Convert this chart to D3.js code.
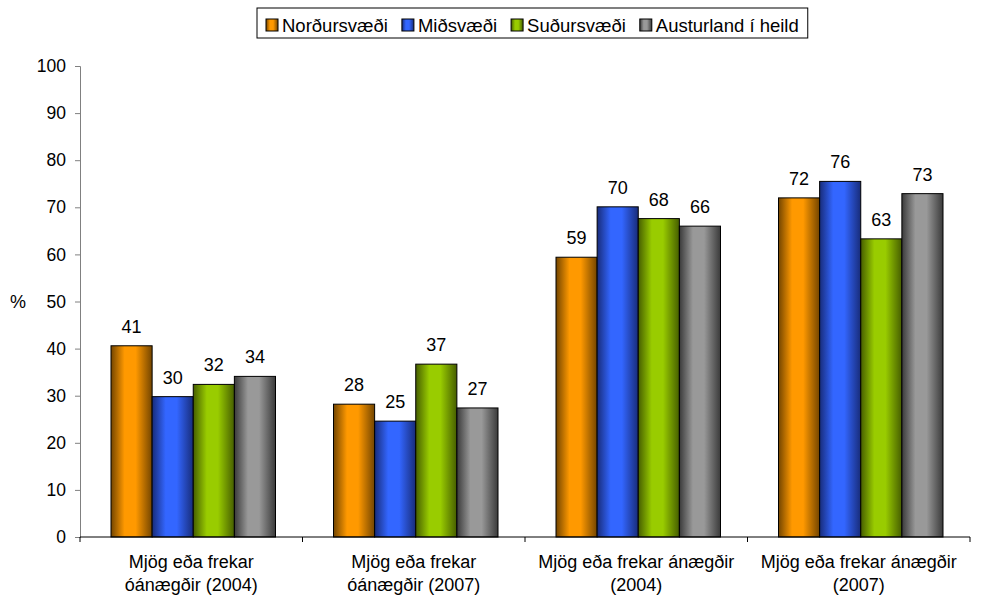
<!DOCTYPE html>
<html>
<head>
<meta charset="utf-8">
<script src="https://cdn.jsdelivr.net/npm/d3@7"></script>
<style>
  body { margin: 0; background: #fff; }
  text { font-family: "Liberation Sans", Arial, sans-serif; fill: #000; }
</style>
</head>
<body>
<div id="chart"></div>
<script>
// Data
const categories = [
    ["Mjög eða frekar", "óánægðir (2004)"],
    ["Mjög eða frekar", "óánægðir (2007)"],
    ["Mjög eða frekar ánægðir", "(2004)"],
    ["Mjög eða frekar ánægðir", "(2007)"]
];
const seriesNames = ["Norðursvæði", "Miðsvæði", "Suðursvæði", "Austurland í heild"];
const nordur = [40.6, 28.2, 59.4, 72.0];
const midsvaedi = [29.8, 24.6, 70.1, 75.5];
const sudur = [32.4, 36.7, 67.6, 63.3];
const austurland = [34.1, 27.4, 66.0, 72.9];
const yTicks = [0, 10, 20, 30, 40, 50, 60, 70, 80, 90, 100];

const seriesValues = [nordur, midsvaedi, sudur, austurland];
const colors = [
    { light: "#ff9900", dark: "#734500" },
    { light: "#3366ff", dark: "#182c7a" },
    { light: "#99cc00", dark: "#465e00" },
    { light: "#999999", dark: "#3a3a3a" }
];

const W = 981, H = 601;
const margin = { top: 66, right: 11, bottom: 64, left: 80 };
const width = W - margin.left - margin.right,
    height = H - margin.top - margin.bottom;

const svg = d3.select("#chart").append("svg")
    .attr("width", W)
    .attr("height", H);

// gradients for bars
const defs = svg.append("defs");
colors.forEach((c, i) => {
    const g = defs.append("linearGradient")
        .attr("id", "grad" + i)
        .attr("x1", "0%").attr("x2", "100%").attr("y1", "0%").attr("y2", "0%");
    g.append("stop").attr("offset", "0%").attr("stop-color", c.dark);
    g.append("stop").attr("offset", "33%").attr("stop-color", c.light);
    g.append("stop").attr("offset", "60%").attr("stop-color", c.light);
    g.append("stop").attr("offset", "100%").attr("stop-color", c.dark);
});

const chart = svg.append("g")
    .attr("transform", `translate(${margin.left},${margin.top})`);

const x0 = d3.scaleBand()
    .domain(d3.range(categories.length))
    .range([0, width]);

const gap = 62;
const x1 = d3.scaleBand()
    .domain(d3.range(seriesNames.length))
    .range([gap / 2, x0.bandwidth() - gap / 2 + 4]);

const y = d3.scaleLinear()
    .domain([0, 100])
    .range([height, 0]);

// Y axis
const yAxis = chart.append("g")
    .call(d3.axisLeft(y).tickValues(yTicks).tickSize(5).tickPadding(9));
yAxis.select(".domain").attr("stroke", "#808080");
yAxis.selectAll(".tick line").attr("stroke", "#808080");
yAxis.selectAll("text")
    .style("font-size", "17.5px")
    .style("font-family", "'Liberation Sans', Arial, sans-serif");

// Bars
const groups = chart.selectAll(".grp")
    .data(categories)
    .enter().append("g")
    .attr("class", "grp")
    .attr("transform", (d, i) => `translate(${x0(i)},0)`);

groups.each(function(cat, ci) {
    const g = d3.select(this);
    seriesValues.forEach((vals, si) => {
        const v = vals[ci];
        g.append("rect")
            .attr("x", x1(si))
            .attr("y", y(v))
            .attr("width", x1.bandwidth())
            .attr("height", height - y(v))
            .attr("fill", `url(#grad${si})`)
            .attr("stroke", "#000")
            .attr("stroke-width", 1);
        g.append("text")
            .attr("x", x1(si) + x1.bandwidth() / 2)
            .attr("y", y(v) - 13)
            .attr("text-anchor", "middle")
            .style("font-size", "18px")
            .text(Math.round(v));
    });
});

// X axis
const xAxisG = chart.append("g")
    .attr("transform", `translate(0,${height})`);
xAxisG.append("line")
    .attr("x1", 0).attr("x2", width)
    .attr("stroke", "#000");
xAxisG.selectAll(".sep")
    .data(d3.range(categories.length + 1))
    .enter().append("line")
    .attr("x1", d => d < categories.length ? x0(d) : width)
    .attr("x2", d => d < categories.length ? x0(d) : width)
    .attr("y1", 0).attr("y2", 5)
    .attr("stroke", "#000");

const catLabels = xAxisG.selectAll(".cat")
    .data(categories)
    .enter().append("text")
    .attr("text-anchor", "middle")
    .style("font-size", "18px");
catLabels.each(function(lines, i) {
    const t = d3.select(this);
    lines.forEach((ln, k) => {
        t.append("tspan")
            .attr("x", x0(i) + x0.bandwidth() / 2)
            .attr("y", 31 + k * 23)
            .text(ln);
    });
});

// Y title
svg.append("text")
    .attr("x", 18)
    .attr("y", y(50) + margin.top + 6)
    .attr("text-anchor", "middle")
    .style("font-size", "18px")
    .text("%");

// Legend
const legend = svg.append("g");
const legX = 257, legY = 8, legH = 30;
const box = legend.append("rect")
    .attr("x", legX).attr("y", legY)
    .attr("height", legH)
    .attr("fill", "#fff")
    .attr("stroke", "#000");
let cx = 266;
seriesNames.forEach((name, i) => {
    legend.append("rect")
        .attr("x", cx).attr("y", legY + 11)
        .attr("width", 12).attr("height", 12)
        .attr("fill", `url(#grad${i})`)
        .attr("stroke", "#000");
    const t = legend.append("text")
        .attr("x", cx + 16)
        .attr("y", legY + 24)
        .style("font-size", "18.5px")
        .text(name);
    cx += 16 + t.node().getComputedTextLength() + 14;
});
box.attr("width", cx - 14 + 9 - legX);
</script>
</body>
</html>
